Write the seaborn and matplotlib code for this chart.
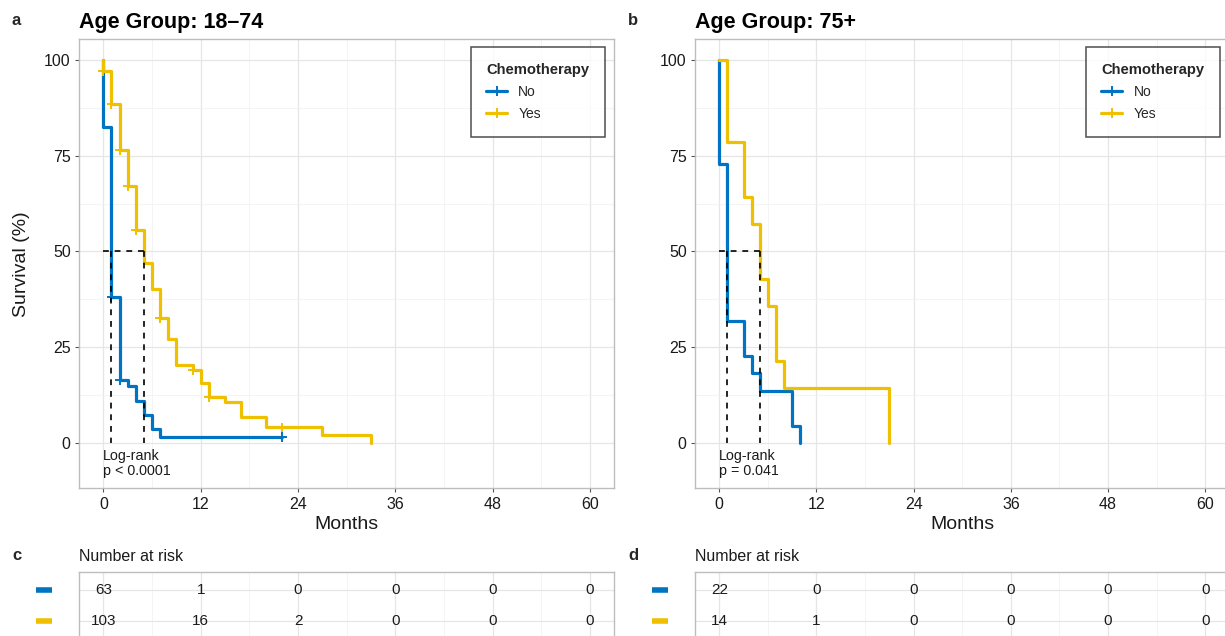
import numpy as np
import pandas as pd
import matplotlib
matplotlib.use("Agg")
import matplotlib.pyplot as plt
import matplotlib.transforms as mtransforms
from matplotlib.lines import Line2D
from matplotlib.ticker import MultipleLocator
import seaborn as sns

sns.set_style("white")
plt.rcParams["font.family"] = ["Liberation Sans", "DejaVu Sans"]

# ---------------- data ----------------
groups = ["No", "Yes"]
palette = {"No": "#0073C2", "Yes": "#EFC000"}

# Panel a (Age 18-74): Kaplan-Meier step points (month, survival %)
a_no_t = [0, 0, 1, 2, 3, 4, 5, 6, 7, 22]
a_no_s = [100, 82.5, 38.1, 16.4, 14.7, 11.0, 7.3, 3.7, 1.6, 1.6]
a_yes_t = [0, 0, 1, 2, 3, 4, 5, 6, 7, 8, 9, 11, 12, 13, 15, 17, 20, 27, 33]
a_yes_s = [100, 97.1, 88.4, 76.4, 67.1, 55.5, 46.9, 40.2, 32.6, 27.0, 20.4,
           19.1, 15.6, 11.9, 10.7, 6.6, 4.0, 2.0, 0]
a_no_cens_t = [1, 2, 22]
a_no_cens_s = [38.1, 16.4, 1.6]
a_yes_cens_t = [0, 1, 2, 3, 4, 7, 11, 13, 22]
a_yes_cens_s = [97.1, 88.4, 76.4, 67.1, 55.5, 32.6, 19.1, 11.9, 4.0]
a_medians = [1, 5]
a_pvalue = "p < 0.0001"

# Panel b (Age 75+)
b_no_t = [0, 0, 1, 3, 4, 5, 9, 10]
b_no_s = [100, 72.7, 31.8, 22.7, 18.2, 13.6, 4.5, 0]
b_yes_t = [0, 1, 3, 4, 5, 6, 7, 8, 21]
b_yes_s = [100, 78.6, 64.3, 57.1, 42.9, 35.7, 21.4, 14.3, 0]
b_no_cens_t = []
b_no_cens_s = []
b_yes_cens_t = []
b_yes_cens_s = []
b_medians = [1, 5]
b_pvalue = "p = 0.041"

# Number at risk
risk_times = [0, 12, 24, 36, 48, 60]
risk_a_no = [63, 1, 0, 0, 0, 0]
risk_a_yes = [103, 16, 2, 0, 0, 0]
risk_b_no = [22, 0, 0, 0, 0, 0]
risk_b_yes = [14, 1, 0, 0, 0, 0]

titles = ["Age Group: 18\u201374", "Age Group: 75+"]


def curve_df(no_t, no_s, yes_t, yes_s):
    return pd.concat([
        pd.DataFrame({"Months": no_t, "Survival": no_s, "Chemotherapy": "No"}),
        pd.DataFrame({"Months": yes_t, "Survival": yes_s, "Chemotherapy": "Yes"}),
    ], ignore_index=True)


panels = [
    dict(curves=curve_df(a_no_t, a_no_s, a_yes_t, a_yes_s),
         cens=curve_df(a_no_cens_t, a_no_cens_s, a_yes_cens_t, a_yes_cens_s),
         medians=a_medians, p=a_pvalue, risk={"No": risk_a_no, "Yes": risk_a_yes},
         title=titles[0], letter="a", tletter="c"),
    dict(curves=curve_df(b_no_t, b_no_s, b_yes_t, b_yes_s),
         cens=curve_df(b_no_cens_t, b_no_cens_s, b_yes_cens_t, b_yes_cens_s),
         medians=b_medians, p=b_pvalue, risk={"No": risk_b_no, "Yes": risk_b_yes},
         title=titles[1], letter="b", tletter="d"),
]

# ---------------- layout ----------------
W, H = 1225, 636
fig = plt.figure(figsize=(W / 100, H / 100), dpi=100)


def fr(x0, y0, x1, y1):
    return [x0 / W, 1 - y1 / H, (x1 - x0) / W, (y1 - y0) / H]


main_boxes = [(79, 39.3, 614.4, 488.3), (695, 39.3, 1229.5, 488.3)]
tab_boxes = [(79, 571.7, 614.4, 650), (695, 571.7, 1229.5, 650)]
letter_x = [12, 628]

border = "#BDBDBD"
grid_major = "#E6E6E6"
grid_minor = "#F2F2F2"
txt = "#1A1A1A"

for i, p in enumerate(panels):
    ax = fig.add_axes(fr(*main_boxes[i]))
    df = p["curves"]
    sns.lineplot(data=df, x="Months", y="Survival", hue="Chemotherapy",
                 hue_order=groups, palette=palette, drawstyle="steps-post",
                 estimator=None, sort=False, linewidth=2.3, legend=False,
                 ax=ax, zorder=3)
    cdf = p["cens"]
    if len(cdf):
        sns.scatterplot(data=cdf, x="Months", y="Survival", hue="Chemotherapy",
                        hue_order=groups, palette=palette, marker="+", s=50,
                        linewidth=1.4, legend=False, ax=ax, zorder=4)
    # median survival lines
    m_hi = max(p["medians"])
    ax.plot([0, m_hi], [50, 50], color="black", ls=(0, (3.5, 3.5)), lw=1.2, zorder=5)
    for m in p["medians"]:
        ax.plot([m, m], [50, 0], color="black", ls=(0, (3.5, 3.5)), lw=1.2, zorder=5)

    ax.text(0, -1.6, "Log-rank\n" + p["p"], ha="left", va="top", fontsize=10.3,
            color=txt, linespacing=1.1)

    ax.set_xlim(-3, 63)
    ax.set_ylim(-11.9, 105.4)
    ax.xaxis.set_major_locator(MultipleLocator(12))
    ax.xaxis.set_minor_locator(MultipleLocator(6))
    ax.yaxis.set_major_locator(MultipleLocator(25))
    ax.yaxis.set_minor_locator(MultipleLocator(12.5))
    ax.grid(which="major", color=grid_major, lw=0.9, zorder=0)
    ax.grid(which="minor", color=grid_minor, lw=0.6, zorder=0)
    ax.set_axisbelow(True)
    for s in ax.spines.values():
        s.set_color(border)
        s.set_linewidth(1.0)
    ax.tick_params(which="major", length=3, width=0.8, color="#555555",
                   labelsize=11.5, labelcolor=txt, pad=3, bottom=True, left=True)
    ax.tick_params(which="minor", length=0)
    ax.set_xlabel("Months", fontsize=14, color=txt, labelpad=3)
    if i == 0:
        ax.set_ylabel("Survival (%)", fontsize=14, color=txt, labelpad=10)
    else:
        ax.set_ylabel("")

    ax.text(0, 1.014, p["title"], transform=ax.transAxes, ha="left", va="bottom",
            fontsize=15.5, fontweight="bold", color="black")
    fig.text(letter_x[i] / W, 1 - 25 / H, p["letter"],
             fontsize=12, fontweight="bold", ha="left", va="baseline")

    handles = [Line2D([], [], color=palette[g], lw=2.3, marker="+", markersize=7,
                      mew=1.4) for g in groups]
    leg = ax.legend(handles, groups, title="Chemotherapy", loc="upper right",
                    bbox_to_anchor=(0.982, 0.982), borderaxespad=0,
                    fontsize=10, frameon=True, fancybox=False,
                    borderpad=1.1, labelspacing=0.6, handlelength=1.5,
                    handletextpad=0.8, alignment="left",
                    title_fontproperties={"weight": "bold", "size": 10.6})
    leg.get_frame().set_edgecolor("#222222")
    leg.get_frame().set_linewidth(1.1)
    leg.set_zorder(10)

    # ---------- risk table ----------
    tab = fig.add_axes(fr(*tab_boxes[i]))
    rows = {g: k + 1 for k, g in enumerate(groups)}
    rdf = pd.concat([pd.DataFrame({"Months": risk_times, "n": p["risk"][g],
                                   "row": rows[g], "Chemotherapy": g}) for g in groups])
    for _, r in rdf.iterrows():
        tab.text(r["Months"], r["row"], str(int(r["n"])), ha="center", va="center",
                 fontsize=11, color=txt)
    tab.set_xlim(-3, 63)
    tab.set_ylim(2.954, 0.414)
    tab.xaxis.set_major_locator(MultipleLocator(12))
    tab.xaxis.set_minor_locator(MultipleLocator(6))
    tab.set_yticks([1, 2])
    tab.grid(which="major", color=grid_major, lw=0.9)
    tab.grid(which="minor", axis="x", color=grid_minor, lw=0.6)
    tab.tick_params(which="both", length=0, labelbottom=False, labelleft=False)
    for s in tab.spines.values():
        s.set_color(border)
        s.set_linewidth(1.0)
    trans = mtransforms.blended_transform_factory(tab.transAxes, tab.transData)
    for g in groups:
        tab.add_line(Line2D([-0.080, -0.050], [rows[g], rows[g]], transform=trans,
                            color=palette[g], lw=4, solid_capstyle="butt",
                            clip_on=False))
    tab.text(0, 1 + 11 / 78.3, "Number at risk", transform=tab.transAxes,
             ha="left", va="baseline", fontsize=11.5, color=txt)
    fig.text(letter_x[i] / W, 1 - 560 / H, p["tletter"],
             fontsize=12, fontweight="bold", ha="left", va="baseline")

fig.savefig("out.png", dpi=100)
